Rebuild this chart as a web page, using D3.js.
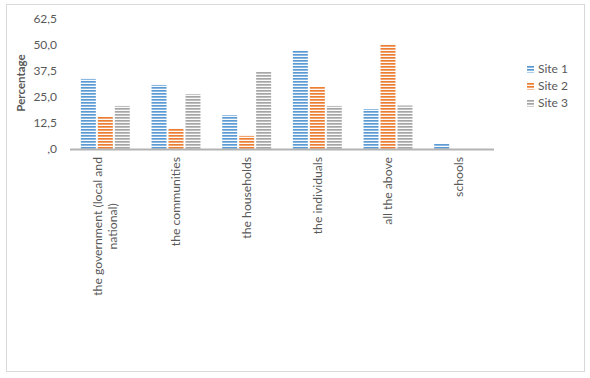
<!DOCTYPE html>
<html><head><meta charset="utf-8">
<script src="https://cdn.jsdelivr.net/npm/d3@7"></script>
<style>body{margin:0;background:#fff}svg{display:block}text{font-family:Lato,"Open Sans",sans-serif;fill:#595959}</style>
</head><body>
<svg id="c" width="590" height="378"></svg>
<script>
const categories = ["the government (local and national)", "the communities", "the households", "the individuals", "all the above", "schools"];
const seriesNames = ["Site 1", "Site 2", "Site 3"];
const site1 = [33.7, 30.8, 16.3, 47.6, 19.2, 2.4];
const site2 = [15.4, 10.1, 6.3, 29.8, 50.5, 0];
const site3 = [20.7, 26.4, 37.0, 20.7, 20.9, 0];
const yTicks = [0, 12.5, 25, 37.5, 50, 62.5];
const yTickLabels = [",0", "12,5", "25,0", "37,5", "50,0", "62,5"];
const colors = ["#5B9BD5", "#ED7D31", "#A5A5A5"];
const seriesValues = [site1, site2, site3];

const svg = d3.select("#c");
svg.append("rect").attr("x", 6.5).attr("y", 4.5).attr("width", 578).attr("height", 367)
  .attr("fill", "#fff").attr("stroke", "#d9d9d9");

const defs = svg.append("defs");
colors.forEach((c, i) => {
  const p = defs.append("pattern").attr("id", "pat" + i).attr("patternUnits", "userSpaceOnUse")
    .attr("width", 6).attr("height", 3);
  p.append("rect").attr("width", 6).attr("height", 3).attr("fill", "#fafafa");
  p.append("rect").attr("width", 6).attr("height", 1).attr("fill", c);
  p.append("rect").attr("y", 1).attr("width", 6).attr("height", 1).attr("fill", c).attr("fill-opacity", 0.7);
});

const x0 = d3.scaleBand().domain(categories).range([70, 494]).padding(0);
const x1 = d3.scaleBand().domain(seriesNames).range([0, x0.bandwidth()]).paddingInner(0.118).paddingOuter(0.64);
const y = d3.scaleLinear().domain([0, 62.5]).range([149, 19]);

// y tick labels
svg.append("g").selectAll("text").data(yTicks).join("text")
  .attr("x", 57).attr("y", d => y(d)).attr("dy", "0.35em").attr("text-anchor", "end")
  .attr("font-size", 12).text((d, i) => yTickLabels[i]);

svg.append("text").attr("transform", `translate(25,${(19 + 149) / 2 - 1}) rotate(-90)`)
  .attr("text-anchor", "middle").attr("font-size", 11.5).attr("font-weight", "bold")
  .attr("fill", "#404040").text("Percentage");

// bars
const groups = svg.append("g").selectAll("g").data(categories).join("g")
  .attr("transform", d => `translate(${x0(d)},0)`);
groups.selectAll("rect").data((d, ci) => seriesNames.map((s, si) => ({ s, si, v: seriesValues[si][ci] })))
  .join("rect")
  .attr("x", d => x1(d.s)).attr("width", x1.bandwidth())
  .attr("y", d => y(d.v)).attr("height", d => y(0) - y(d.v))
  .attr("fill", d => `url(#pat${d.si})`);

// baseline
svg.append("line").attr("x1", 70).attr("x2", 494).attr("y1", 149.5).attr("y2", 149.5)
  .attr("stroke", "#b3b3b3").attr("stroke-width", 2);

// category labels
const maxW = 150, fs = 12.2, lh = 15.5;
categories.forEach(cat => {
  const cx = x0(cat) + x0.bandwidth() / 2;
  const g = svg.append("g").attr("transform", `translate(${cx},157) rotate(-90)`);
  const words = cat.split(" ");
  const lines = [];
  let cur = "";
  const tmp = g.append("text").attr("font-size", fs);
  words.forEach(w => {
    const t = cur ? cur + " " + w : w;
    tmp.text(t);
    if (tmp.node().getComputedTextLength() > maxW && cur) { lines.push(cur); cur = w; }
    else cur = t;
  });
  lines.push(cur);
  let widest = 0;
  lines.forEach(l => { tmp.text(l); widest = Math.max(widest, tmp.node().getComputedTextLength()); });
  tmp.remove();
  lines.forEach((l, i) => {
    g.append("text").attr("font-size", fs).attr("text-anchor", "middle")
      .attr("x", -widest / 2).attr("y", (i - (lines.length - 1) / 2) * lh).attr("dy", "0.35em").text(l);
  });
});

// legend
const lg = svg.append("g").selectAll("g").data(seriesNames).join("g")
  .attr("transform", (d, i) => `translate(527,${69 + i * 17})`);
lg.append("rect").attr("x", 0).attr("y", -3.5).attr("width", 7).attr("height", 7)
  .attr("fill", (d, i) => `url(#pat${i})`);
lg.append("text").attr("x", 11).attr("dy", "0.35em").attr("font-size", 12).text(d => d);
</script>
</body></html>
